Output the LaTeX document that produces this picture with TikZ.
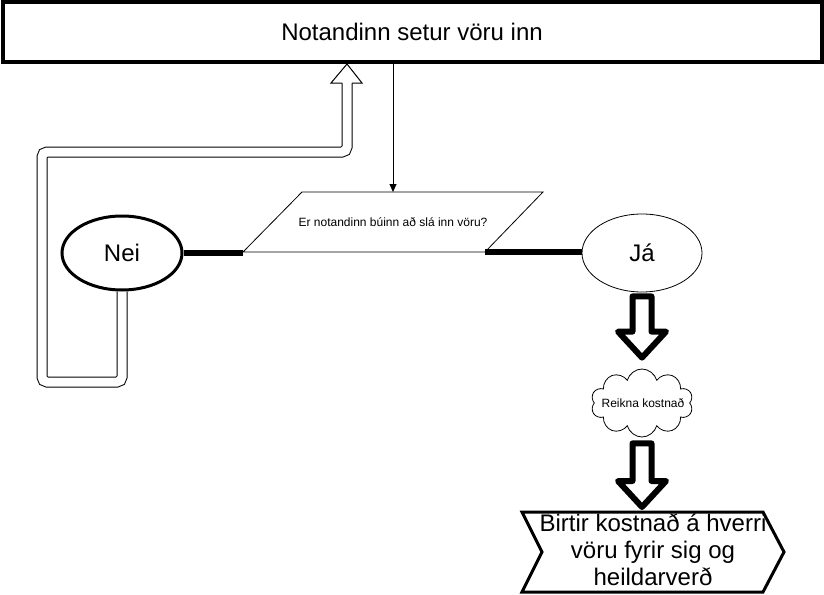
\documentclass[tikz,border=0pt]{standalone}
\usepackage{fontspec}
\setmainfont{Liberation Sans}
\usetikzlibrary{shapes.geometric,shapes.symbols,calc,arrows.meta}

% fat hollow arrow pointing down, from #1 to the tip #2
\newcommand{\fatdown}[2]{%
	\draw[fatarrow] ($(#1)+(-\sw,0)$) -- ($(#2)+(-\sw,-\hl)$) -- ($(#2)+(-\hw,-\hl)$) -- (#2)
		-- ($(#2)+(\hw,-\hl)$) -- ($(#2)+(\sw,-\hl)$) -- ($(#1)+(\sw,0)$) -- cycle;}

\begin{document}
\begin{tikzpicture}[x=1pt,y=-1pt]
		% one unit is one pixel of the page, y grows downwards
		\def\w{824}
		\def\h{594}
		\def\sw{9.5}
		\def\hw{24}
		\def\hl{26}
		\useasboundingbox (0,0) rectangle (\w,\h);

		\tikzset{
			bigtext/.style={font=\fontsize{24}{27}\selectfont},
			smalltext/.style={font=\fontsize{12}{14}\selectfont},
			fatarrow/.style={line width=6, line join=round, fill=white},
			thickline/.style={line width=6.5},
		}

		\node[draw, line width=4, minimum width=819, minimum height=60, inner sep=0, bigtext] (input) at (412,32) {Notandinn setur vöru inn};

		% the question, a parallelogram
		\coordinate (asktop) at (393,192);
		\coordinate (askbl) at (243,252);
		\coordinate (askbr) at (485,252);
		\draw[line width=0.8] (302,192) -- (543,192) -- (askbr) -- (askbl) -- cycle;
		\node[inner sep=0, smalltext] (ask) at (393,222) {Er notandinn búinn að slá inn vöru?};

		\node[draw, ellipse, line width=3, minimum width=120, minimum height=74, bigtext] (nei) at (122,253) {Nei};
		\node[draw, ellipse, line width=0.8, minimum width=120, minimum height=78, bigtext] (ja) at (642,253) {Já};

		\node[draw, cloud, cloud puffs=10, cloud ignores aspect, line width=0.8, minimum width=102, minimum height=68, inner sep=0] (cost) at (642,403) {};
		\node[inner sep=0, smalltext] (costtext) at (643,403) {Reikna kostnað};

		% the output shape
		\draw[line width=3] (522,512) -- (763,512) -- (784,552) -- (763,592) -- (522,592) -- (542,552) -- cycle;
		\node[align=center, inner sep=0, bigtext] (show) at (653,550) {Birtir kostnað á hverri\\vöru fyrir sig og\\heildarverð};
		\coordinate (showin) at (642,507);

		\draw[-{Triangle[length=8,width=7]}, line width=0.8] (asktop |- input.south) -- (asktop);

		\draw[thickline] (nei.east) -- (nei.east -| askbl);
		\draw[thickline] (askbr) -- (askbr -| ja.west);

		% the way back from Nei to the top
		\coordinate (back) at (347,64);
		\draw[double, double distance=9pt, line width=1pt, rounded corners=5] (nei.south) -- (122,382) -- (42,382) -- (42,152) -- (347,152) -- ($(back)+(0,19)$);
		\draw[line width=1pt, fill=white] ($(back)+(-5,19)$) -- ($(back)+(-16,19)$) -- (back) -- ($(back)+(15,19)$) -- ($(back)+(5,19)$);

		\fatdown{[yshift=-4pt]ja.south}{[yshift=11pt]cost.north}
		\fatdown{[yshift=-6pt]cost.south}{showin}
	\end{tikzpicture}
\end{document}
